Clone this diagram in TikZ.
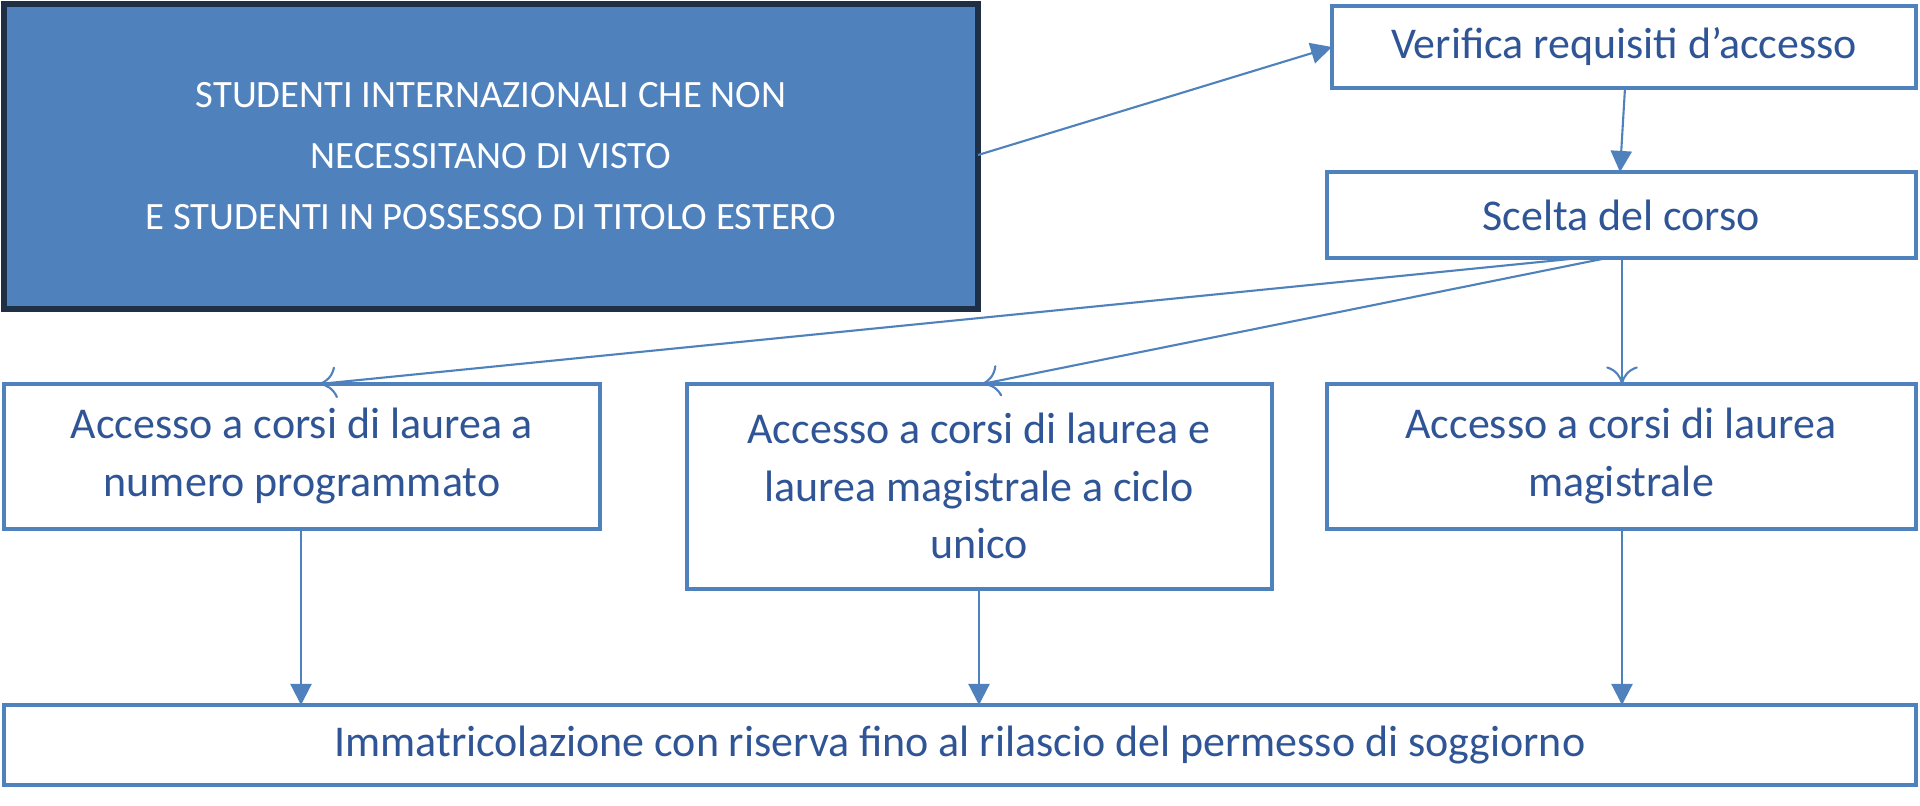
\documentclass[tikz,border=0pt]{standalone}
\usepackage{fontspec}
\setmainfont{Carlito}
\usetikzlibrary{arrows.meta}
\definecolor{lb}{HTML}{4F81BD}
\definecolor{tb}{HTML}{2F5597}
\definecolor{db}{HTML}{1F2F45}
\begin{document}
\begin{tikzpicture}[x=0.01cm,y=-0.01cm,
  box/.style={draw=lb,line width=1.2pt,fill=white,text=tb,align=center,font=\fontsize{12.5}{16.4}\selectfont},
  con/.style={draw=lb,line width=0.6pt},
  fa/.style={con,-{Triangle[length=6pt,width=6pt]}},
  oa/.style={con,-{To[length=5pt,width=9pt]}}]
\useasboundingbox (0,0) rectangle (1920,805);
\path[draw=db,fill=lb,line width=1.5pt] (4,4) rectangle (978,309);
\node[text=white,align=center,font=\fontsize{11}{17.4}\selectfont] (s) at (491,156) {STUDENTI INTERNAZIONALI CHE NON\\NECESSITANO DI VISTO\\E STUDENTI IN POSSESSO DI TITOLO ESTERO};
\coordinate (sr) at (978,155);
\draw[box] (1332,6) rectangle (1916,88); \node[text=tb,font=\fontsize{12.5}{16.4}\selectfont] (v) at (1624,47) {Verifica requisiti d’accesso};
\draw[box] (1327,172) rectangle (1916,258); \node[text=tb,font=\fontsize{12.5}{16.4}\selectfont] (c) at (1621,215) {Scelta del corso};
\draw[box] (4,384) rectangle (600,529); \node[text=tb,align=center,font=\fontsize{12.5}{16.4}\selectfont] (a) at (302,456) {Accesso a corsi di laurea a\\numero programmato};
\draw[box] (687,384) rectangle (1272,589); \node[text=tb,align=center,font=\fontsize{12.5}{16.4}\selectfont] (b) at (979,486) {Accesso a corsi di laurea e\\laurea magistrale a ciclo\\unico};
\draw[box] (1327,384) rectangle (1916,529); \node[text=tb,align=center,font=\fontsize{12.5}{16.4}\selectfont] (m) at (1621,456) {Accesso a corsi di laurea\\magistrale};
\draw[box] (4,705) rectangle (1916,785); \node[text=tb,font=\fontsize{12.5}{16.4}\selectfont] (i) at (960,745) {Immatricolazione con riserva fino al rilascio del permesso di soggiorno};
\coordinate (vl) at (1332,47); \coordinate (vb) at (1625,88); \coordinate (ct) at (1620,172);
\coordinate (cb1) at (1580,258); \coordinate (cb2) at (1607,258); \coordinate (cb3) at (1622,258);
\coordinate (at) at (319,384); \coordinate (bt) at (982,384); \coordinate (mt) at (1622,384);
\coordinate (ab) at (301,529); \coordinate (bb) at (979,589); \coordinate (mb) at (1622,529);
\coordinate (i1) at (301,705); \coordinate (i2) at (979,705); \coordinate (i3) at (1622,705);
\draw[fa] (sr) -- (vl);
\draw[fa] (vb) -- (ct);
\draw[oa] (cb1) -- (at);
\draw[oa] (cb2) -- (bt);
\draw[oa] (cb3) -- (mt);
\draw[fa] (ab) -- (i1);
\draw[fa] (bb) -- (i2);
\draw[fa] (mb) -- (i3);
\end{tikzpicture}
\end{document}
